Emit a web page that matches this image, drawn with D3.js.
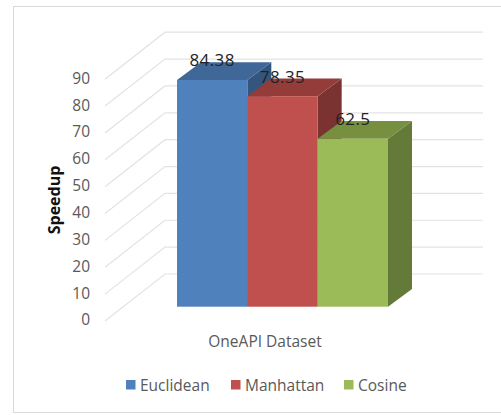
<!DOCTYPE html>
<html>
<head>
<meta charset="utf-8">
<script src="https://cdn.jsdelivr.net/npm/d3@7"></script>
<style>
  html, body { margin: 0; padding: 0; background: #fff; }
  svg { display: block; }
  text { font-family: "Open Sans", "Noto Sans", sans-serif; }
</style>
</head>
<body>
<svg id="chart" width="501" height="415"></svg>
<script>
const categories = ["OneAPI Dataset"];
const seriesNames = ["Euclidean", "Manhattan", "Cosine"];
const seriesValues = [84.38, 78.35, 62.5];
const seriesLabels = ["84.38", "78.35", "62.5"];
const frontColors = ["#4f81bd", "#c0504d", "#9bbb59"];
const topColors = ["#3f6797", "#943c3a", "#76903f"];
const sideColors = ["#34567e", "#7a3331", "#647a38"];
const yTicks = [0, 10, 20, 30, 40, 50, 60, 70, 80, 90];

const svg = d3.select("#chart");

// Chart frame; its right edge runs past the page
svg.append("rect")
  .attr("x", 13.5).attr("y", 6.5).attr("width", 500).attr("height", 406)
  .attr("fill", "#fff").attr("stroke", "#d9d9d9").attr("stroke-width", 1);

// Value scale shared by the walls and the columns; only the baseline differs
const unitHeight = d3.scaleLinear().domain([0, 90]).range([0, 241.8]);
const wallFrontBase = 321, wallBackBase = 274;
const wallFrontX = 105, wallBackX = 165, wallRightX = 483;

const grid = svg.append("g").attr("fill", "none").attr("stroke", "#e3e3e3").attr("stroke-width", 1.2);
grid.selectAll("path").data(yTicks).join("path")
  .attr("d", d => {
    const h = unitHeight(d);
    return d3.line()([
      [wallFrontX, wallFrontBase - h],
      [wallBackX, wallBackBase - h],
      [wallRightX, wallBackBase - h]
    ]);
  });

// Tick labels, drawn through a d3 axis on the near edge of the side wall
const axisScale = d3.scaleLinear().domain([0, 90])
  .range([wallFrontBase - 1, wallFrontBase - 1 - unitHeight(90)]);
const axis = svg.append("g").attr("transform", "translate(95,0)")
  .call(d3.axisLeft(axisScale).tickValues(yTicks).tickSize(0).tickPadding(5));
axis.select(".domain").remove();
axis.selectAll("text")
  .attr("fill", "#595959")
  .style("font-family", '"Open Sans", "Noto Sans", sans-serif')
  .style("font-size", "15.5px");

// Axis title
svg.append("text")
  .attr("transform", "translate(60,200) rotate(-90)")
  .attr("text-anchor", "middle")
  .attr("fill", "#111")
  .style("font-size", "16px").style("font-weight", 700)
  .text("Speedup");

// Columns: three faces each, extruded back and to the right
const barBase = 306.7, depthX = 24, depthY = 17.7;
const barX = d3.scaleBand().domain(seriesNames).range([177, 388]);
const bars = svg.append("g").selectAll("g").data(seriesNames).join("g");

bars.append("path")
  .attr("fill", (d, i) => sideColors[i])
  .attr("d", (d, i) => {
    const r = barX(d) + barX.bandwidth(), t = barBase - unitHeight(seriesValues[i]);
    return d3.line()([[r, t], [r + depthX, t - depthY], [r + depthX, barBase - depthY], [r, barBase]]) + "Z";
  });
bars.append("path")
  .attr("fill", (d, i) => topColors[i])
  .attr("d", (d, i) => {
    const l = barX(d), r = l + barX.bandwidth(), t = barBase - unitHeight(seriesValues[i]);
    return d3.line()([[l, t], [l + depthX, t - depthY], [r + depthX, t - depthY], [r, t]]) + "Z";
  });
bars.append("rect")
  .attr("x", d => barX(d))
  .attr("width", barX.bandwidth())
  .attr("y", (d, i) => barBase - unitHeight(seriesValues[i]))
  .attr("height", (d, i) => unitHeight(seriesValues[i]))
  .attr("fill", (d, i) => frontColors[i]);

// Value labels sit over the top faces
svg.append("g").selectAll("text").data(seriesNames).join("text")
  .attr("x", d => barX(d) + barX.bandwidth() / 2)
  .attr("y", (d, i) => barBase - unitHeight(seriesValues[i]) - 13.5)
  .attr("text-anchor", "middle")
  .attr("fill", "#222")
  .style("font-size", "17px")
  .style("letter-spacing", "0.4px")
  .text((d, i) => seriesLabels[i]);

// Category label
svg.append("text")
  .attr("x", 265).attr("y", 346.5)
  .attr("text-anchor", "middle")
  .attr("fill", "#595959")
  .style("font-size", "15.5px")
  .text(categories[0]);

// Legend
const legendX = [126, 231, 344];
const legend = svg.append("g").selectAll("g").data(seriesNames).join("g")
  .attr("transform", (d, i) => `translate(${legendX[i]},380)`);
legend.append("rect")
  .attr("width", 9.5).attr("height", 9.5)
  .attr("fill", (d, i) => frontColors[i]);
legend.append("text")
  .attr("x", 14).attr("y", 10.5)
  .attr("fill", "#595959")
  .style("font-size", "15.5px")
  .text(d => d);
</script>
</body>
</html>
